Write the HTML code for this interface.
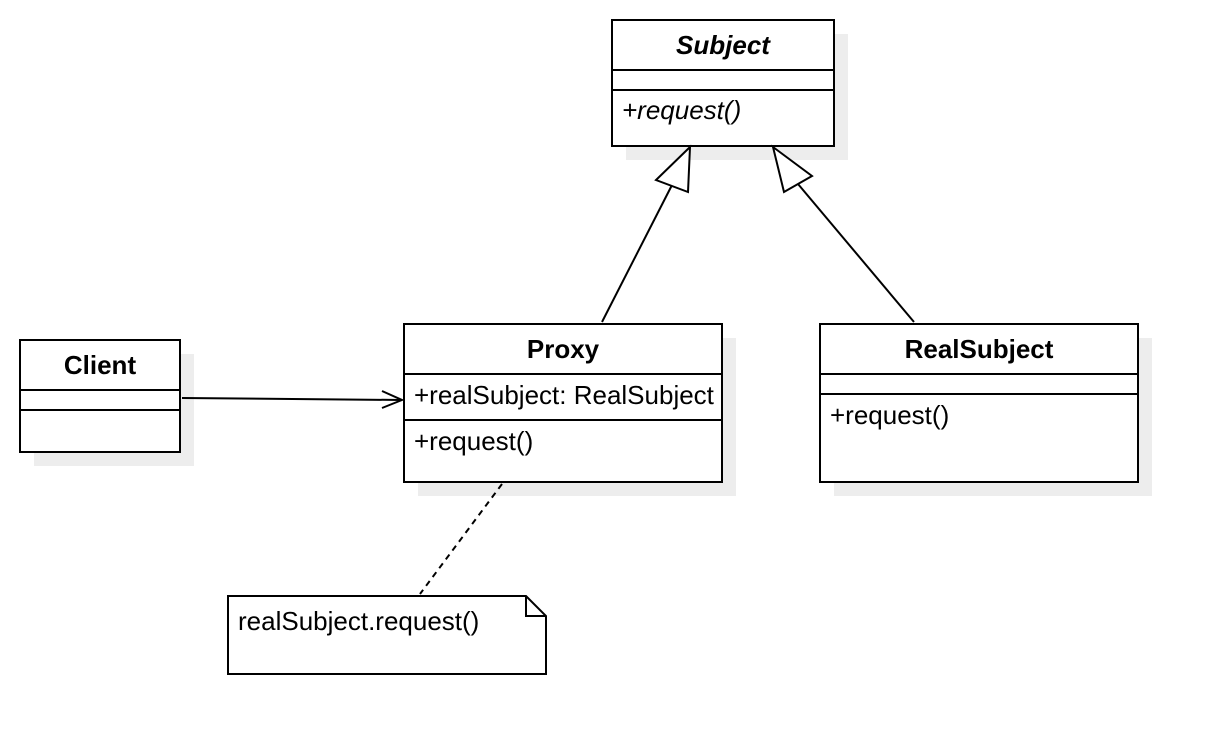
<!DOCTYPE html>
<html><head><meta charset="utf-8"><style>
html,body{margin:0;padding:0;background:#fff;}
svg{display:block;font-family:"Liberation Sans",sans-serif;}
</style></head><body>
<svg width="1218" height="756" viewBox="0 0 1218 756" xmlns="http://www.w3.org/2000/svg">
<g fill="#ededed">
<rect x="626" y="34" width="222" height="126"/>
<rect x="34" y="354" width="160" height="112"/>
<rect x="418" y="338" width="318" height="158"/>
<rect x="834" y="338" width="318" height="158"/>
</g>
<g fill="#fff" stroke="#000" stroke-width="2">
<rect x="612" y="20" width="222" height="126"/>
<line x1="612" y1="70" x2="834" y2="70"/>
<line x1="612" y1="90" x2="834" y2="90"/>
<rect x="20" y="340" width="160" height="112"/>
<line x1="20" y1="390" x2="180" y2="390"/>
<line x1="20" y1="410" x2="180" y2="410"/>
<rect x="404" y="324" width="318" height="158"/>
<line x1="404" y1="374" x2="722" y2="374"/>
<line x1="404" y1="420" x2="722" y2="420"/>
<rect x="820" y="324" width="318" height="158"/>
<line x1="820" y1="374" x2="1138" y2="374"/>
<line x1="820" y1="394" x2="1138" y2="394"/>
<path d="M228 596 H526 L546 616 V674 H228 Z"/>
<path d="M526 596 V616 H546" fill="none"/>
</g>
<g stroke="#000" stroke-width="2" fill="none">
<line x1="602" y1="322" x2="672" y2="185"/>
<polygon points="690,147 656,180 688,192" fill="#fff"/>
<line x1="914" y1="322" x2="798" y2="184"/>
<polygon points="773,147 812,176 784,192" fill="#fff"/>
<line x1="182" y1="398" x2="402" y2="400"/>
<polyline points="382,391 402,400 382,408"/>
<line x1="502" y1="484" x2="420" y2="594" stroke-dasharray="6,5"/>
</g>
<g font-size="26" fill="#000">
<text x="723" y="54" text-anchor="middle" font-weight="bold" font-style="italic">Subject</text>
<text x="622" y="119" font-style="italic">+request()</text>
<text x="100" y="374" text-anchor="middle" font-weight="bold">Client</text>
<text x="563" y="358" text-anchor="middle" font-weight="bold">Proxy</text>
<text x="414" y="404">+realSubject: RealSubject</text>
<text x="414" y="450">+request()</text>
<text x="979" y="358" text-anchor="middle" font-weight="bold">RealSubject</text>
<text x="830" y="424">+request()</text>
<text x="238" y="630">realSubject.request()</text>
</g>
</svg>
</body></html>
